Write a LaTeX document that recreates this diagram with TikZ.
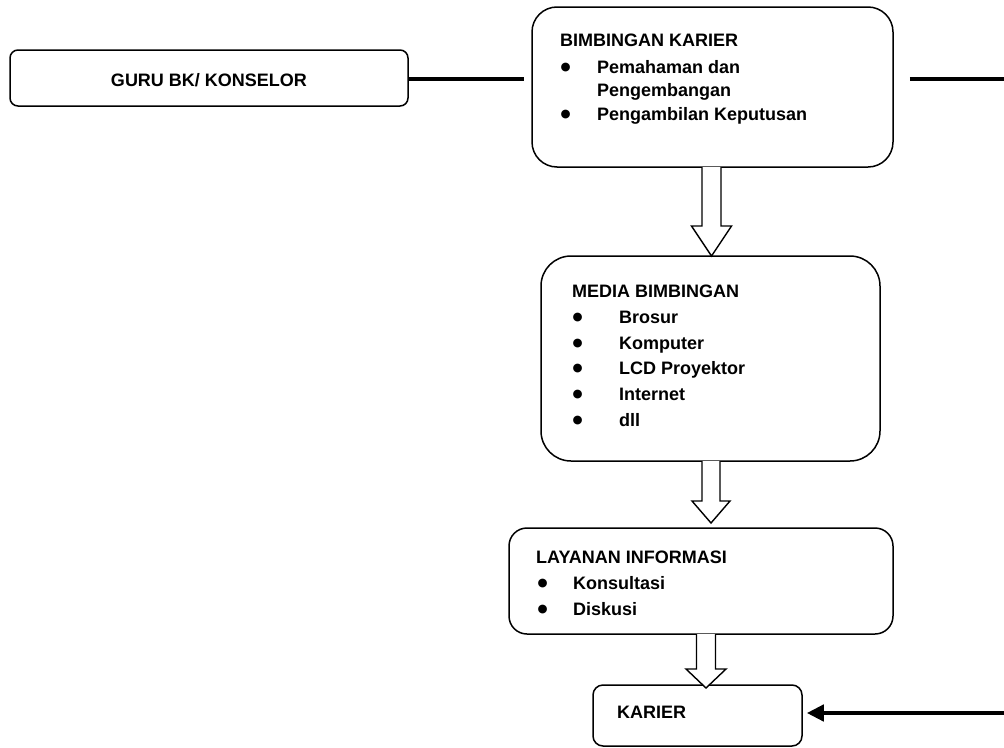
\documentclass[tikz,border=0pt]{standalone}
\usepackage{fontspec}
\setmainfont{Liberation Sans}
\newfontfamily\symfont{DejaVu Sans}
\usetikzlibrary{arrows.meta,calc}
\newcommand\hollowarr[4]{% #1 top, #2 tip, #3 shaft half width, #4 head length
  \draw[hollow] ($(#1)+(-#3,0)$) -- ($(#2)+(-#3,-#4)$) -- ($(#2)+(-2*#3-1,-#4)$) -- (#2)
    -- ($(#2)+(2*#3+1,-#4)$) -- ($(#2)+(#3,-#4)$) -- ($(#1)+(#3,0)$);}
\newcommand\bigbul{{\symfont\fontsize{11.5}{13}\selectfont ●}}
\begin{document}
\begin{tikzpicture}[x=1pt,y=-1pt,
  box/.style={draw,line width=1.5pt,inner sep=0pt},
  txt/.style={anchor=base west,inner sep=0pt,font=\bfseries\fontsize{18}{22}\selectfont},
  bul/.style={anchor=base west,inner sep=0pt,yshift=2.5pt,xshift=-0.5pt},
  hollow/.style={draw,line width=1.4pt,fill=white,line join=miter},
  thickline/.style={line width=4.5pt},
]
\useasboundingbox (0,0) rectangle (1004,747);
% boxes
\node[box,minimum width=398pt,minimum height=56pt,rounded corners=8pt] (guru) at (209,78) {};
\node[box,minimum width=361pt,minimum height=160pt,rounded corners=25pt] (bk) at (712.5,87) {};
\node[box,minimum width=339pt,minimum height=205pt,rounded corners=30pt] (media) at (710.5,358.5) {};
\node[box,minimum width=384pt,minimum height=106pt,rounded corners=18pt] (lay) at (701,581) {};
\node[box,minimum width=209pt,minimum height=61pt,rounded corners=10pt] (kar) at (697.5,715.5) {};
% texts
\node[txt,anchor=base] (tguru) at (209,86) {GURU BK/ KONSELOR};

\node[txt] (tbk) at (560,46) {BIMBINGAN KARIER};
\node[bul] (bk1) at (561,73) {\bigbul};
\node[txt] (tbk1) at (597,73) {Pemahaman dan};
\node[txt] (tbk1b) at (597,96) {Pengembangan};
\node[bul] (bk2) at (561,120) {\bigbul};
\node[txt] (tbk2) at (597,120) {Pengambilan Keputusan};

\node[txt] (tmed) at (572,297) {MEDIA BIMBINGAN};
\node[bul] (m1) at (573,323) {\bigbul};
\node[txt] (tm1) at (619,323) {Brosur};
\node[bul] (m2) at (573,349) {\bigbul};
\node[txt] (tm2) at (619,349) {Komputer};
\node[bul] (m3) at (573,374) {\bigbul};
\node[txt] (tm3) at (619,374) {LCD Proyektor};
\node[bul] (m4) at (573,400) {\bigbul};
\node[txt] (tm4) at (619,400) {Internet};
\node[bul] (m5) at (573,426) {\bigbul};
\node[txt] (tm5) at (619,426) {dll};

\node[txt] (tlay) at (536,563) {LAYANAN INFORMASI};
\node[bul] (l1) at (538,589) {\bigbul};
\node[txt] (tl1) at (573,589) {Konsultasi};
\node[bul] (l2) at (538,615) {\bigbul};
\node[txt] (tl2) at (573,615) {Diskusi};

\node[txt] (tkar) at (617,718) {KARIER};
% connector coordinates
\coordinate (a1top) at (711.5,167);
\coordinate (a1tip) at (711.5,256);
\coordinate (a2top) at (711,461);
\coordinate (a2tip) at (711,523);
\coordinate (a3top) at (706,634);
\coordinate (a3tip) at (706,688);
\coordinate (rightend) at (1004,79);
\coordinate (botend) at (1004,713);
% connectors
\draw[thickline] (guru.east |- 0,79) -- ([xshift=-7pt]bk.west |- 0,79);
\draw[thickline] ([xshift=16pt]bk.east |- rightend) -- (rightend);
\draw[line width=4.5pt,-{Triangle[length=17pt,width=16pt]}] (botend) -- ([xshift=4pt]kar.east |- botend);
\hollowarr{a1top}{a1tip}{9.5}{30}
\hollowarr{a2top}{a2tip}{9}{22}
\hollowarr{a3top}{a3tip}{9.5}{19}
\end{tikzpicture}
\end{document}
